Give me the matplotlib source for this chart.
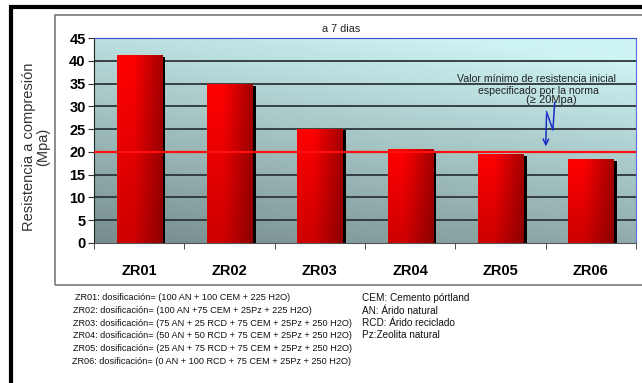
import numpy as np
import matplotlib
matplotlib.use("Agg")
from matplotlib import pyplot as plt
from matplotlib.patches import Rectangle

# resistencia a compresion a 7 dias
mezclas = ["ZR01", "ZR02", "ZR03", "ZR04", "ZR05", "ZR06"]
resistencia = [41.3, 34.9, 25.1, 20.7, 19.5, 18.5]
norma = 20
yticks = [0, 5, 10, 15, 20, 25, 30, 35, 40, 45]

dosificacion = [
    "ZR01: dosificación= (100 AN + 100 CEM + 225 H2O)",
    "ZR02: dosificación= (100 AN +75 CEM + 25Pz + 225 H2O)",
    "ZR03: dosificación= (75 AN + 25 RCD + 75 CEM + 25Pz + 250 H2O)",
    "ZR04: dosificación= (50 AN + 50 RCD + 75 CEM + 25Pz + 250 H2O)",
    "ZR05: dosificación= (25 AN + 75 RCD + 75 CEM + 25Pz + 250 H2O)",
    "ZR06: dosificación= (0 AN + 100 RCD + 75 CEM + 25Pz + 250 H2O)",
]
leyenda = [
    "CEM: Cemento pórtland",
    "AN: Árido natural",
    "RCD: Árido reciclado",
    "Pz:Zeolita natural",
]

W, H = 642, 383
sans = ["Liberation Sans", "DejaVu Sans"]

fig = plt.figure(figsize=(W / 100, H / 100), dpi=100)
fig.patch.set_facecolor("white")


def fx(px):
    return px / W


def fy(py):
    return 1 - py / H


# marcos exteriores
fig.patches.append(Rectangle((fx(11), fy(390)), fx(700), fy(7) - fy(390),
                             transform=fig.transFigure, fill=False,
                             edgecolor="black", lw=3))
fig.patches.append(Rectangle((fx(55), fy(285)), fx(640), fy(15) - fy(285),
                             transform=fig.transFigure, fill=False,
                             edgecolor="#7a7a7a", lw=1.2))

ax = fig.add_axes([fx(94), fy(243), fx(636) - fx(94), fy(38) - fy(243)])
x = np.arange(len(mezclas))
ax.set_xlim(-0.5, len(mezclas) - 0.5)
ax.set_ylim(0, 45)

# fondo degradado
gx, gy = np.meshgrid(np.linspace(0, 1, 200), np.linspace(0, 1, 200))
t = np.clip(0.8 * gy + 0.3 * gx, 0, 1)[..., None]
dark = np.array([118, 140, 140]) / 255
light = np.array([205, 243, 243]) / 255
bg = dark + (light - dark) * t
ax.imshow(bg, extent=[-0.5, len(mezclas) - 0.5, 0, 45], origin="lower",
          aspect="auto", zorder=0)

for yv in yticks[1:-1]:
    ax.axhline(yv, color="#2e3638", lw=1.3, zorder=1)

# barras con sombra
w = 0.5
ax.bar(x + 0.04, np.array(resistencia) - 0.4, width=w, bottom=0,
       color="black", zorder=2)
bars = ax.bar(x, resistencia, width=w, color="#e00000", edgecolor="none",
              zorder=3)
bx, by = np.meshgrid(np.linspace(0, 1, 60), np.linspace(0, 1, 60))
hor = np.clip(1 - 0.55 * np.clip(bx - 0.35, 0, 1) / 0.65, 0, 1)
ver = 0.7 + 0.3 * by
shade = (hor * ver)[..., None]
red = np.concatenate([0.35 + 0.65 * shade, 0.0 * shade, 0.0 * shade], axis=2)
for b in bars:
    im = ax.imshow(red, extent=[b.get_x(), b.get_x() + b.get_width(), 0,
                                b.get_height()],
                   origin="lower", aspect="auto", zorder=3)
    im.set_clip_path(b)

ax.axhline(norma, color="#ff1010", lw=1.6, zorder=4)

# rotulo de la norma
ax.text(4.40, 36.0, "Valor mínimo de resistencia inicial", ha="center",
        va="center", fontsize=7.6, family=sans, color="#222222", zorder=5)
ax.text(4.42, 33.4, "especificado por la norma", ha="center", va="center",
        fontsize=7.6, family=sans, color="#222222", zorder=5)
ax.text(4.56, 31.3, "(≥ 20Mpa)", ha="center", va="center",
        fontsize=8, family=sans, color="#222222", zorder=5)
flecha_x = [4.60, 4.58, 4.51]
flecha_y = [30.8, 24.8, 28.8]
ax.plot(flecha_x, flecha_y, color="#1a2fc8", lw=1.1, zorder=5)
ax.annotate("", xy=(4.50, 20.6), xytext=(flecha_x[-1], flecha_y[-1]),
            arrowprops=dict(arrowstyle="->", color="#1a2fc8", lw=1.1),
            zorder=5)

# ejes
ax.set_yticks(yticks)
ax.set_yticklabels([str(v) for v in yticks], family=sans,
                   fontweight="bold", fontsize=10.5)
ax.set_xticks(x)
ax.set_xticklabels(mezclas, family=sans, fontweight="bold", fontsize=10.5)
ax.set_xticks(np.arange(len(mezclas) + 1) - 0.5, minor=True)
ax.tick_params(axis="x", which="major", length=0, pad=15)
ax.tick_params(axis="x", which="minor", length=4, direction="out",
               color="#333333")
ax.tick_params(axis="y", length=4, direction="out", color="#333333", pad=2)
ax.spines["top"].set_color("#3d4fd0")
ax.spines["right"].set_color("#5a6ae0")
ax.spines["left"].set_color("#222222")
ax.spines["bottom"].set_color("#555555")

fig.text(fx(36), fy(147), "Resistencia a compresión\n(Mpa)", rotation=90,
         ha="center", va="center", fontsize=10.5, family=sans,
         color="#333333", linespacing=0.95)
fig.text(fx(341), fy(29), "a 7 dias", ha="center", va="center",
         fontsize=7.8, family=sans, color="#222222")

# composicion de las mezclas
fila_y = [298, 310.5, 323, 335.5, 348.5, 361]
fila_x = [75, 73, 73, 73, 73, 72.5]
for s, px, py in zip(dosificacion, fila_x, fila_y):
    fig.text(fx(px), fy(py), s, ha="left", va="center", fontsize=6.6,
             family=sans, color="#111111")
for i, s in enumerate(leyenda):
    fig.text(fx(362), fy(fila_y[i]), s, ha="left", va="center", fontsize=7.2,
             family=sans, color="#111111")

fig.savefig("out.png", dpi=100)
